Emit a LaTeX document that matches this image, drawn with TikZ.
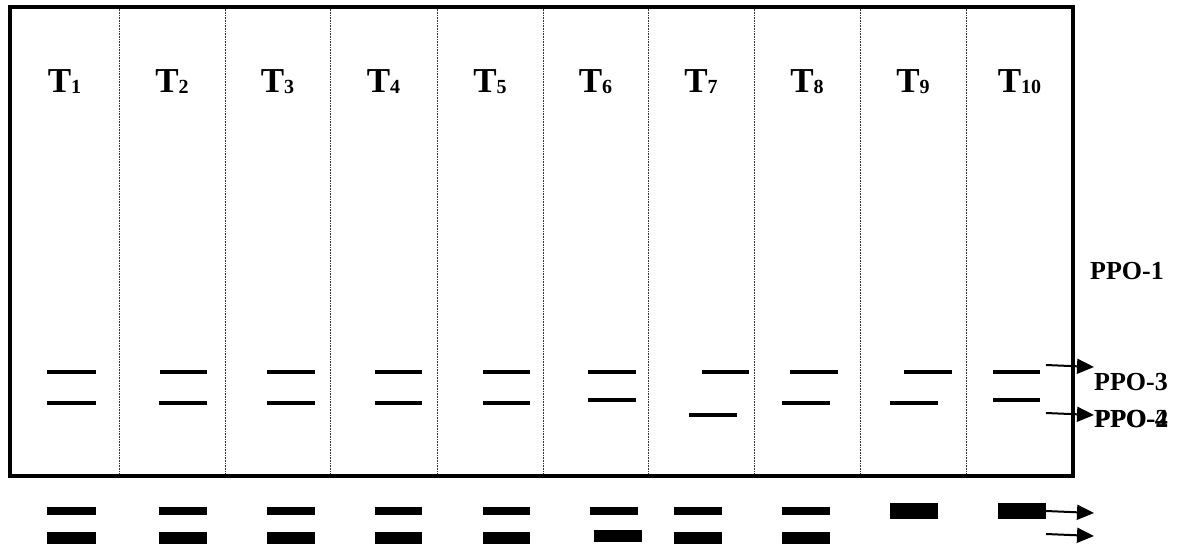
\documentclass[tikz,border=0pt]{standalone}
\usepackage{fontspec}
\setmainfont{Liberation Serif}
\usetikzlibrary{arrows.meta}
\tikzset{
  frame/.style={line width=3.2pt, line join=miter},
  sep/.style={line width=0.7pt, dash pattern=on 0.8pt off 0.8pt, black!80},
  band/.style={line width=4pt},
  thick band/.style={line width=8pt},
  wide band/.style={line width=12pt},
  block/.style={fill=black, draw=none},
  tlabel/.style={anchor=base, inner sep=0pt, font=\fontsize{35}{35}\selectfont\bfseries},
  plabel/.style={anchor=base west, inner sep=0pt, font=\fontsize{26}{26}\selectfont\bfseries},
  arr/.style={line width=2pt, -{Triangle[length=17pt,width=15pt]}}
}
\newcommand{\Tl}[1]{T\raisebox{-1pt}{\fontsize{20}{20}\selectfont #1}}
\begin{document}
\begin{tikzpicture}[x=1pt,y=-1pt]
\useasboundingbox (0,0) rectangle (1180,548);
% lane separators
\foreach \x in {119,225,330,437,543,648,754,860,966}
  \draw[sep] (\x,7) -- (\x,476);
% frame
\draw[frame] (10,7) rectangle (1073,476);
% lane labels
\foreach \x/\n [count=\i] in {64.5/1,172/2,277.5/3,383.5/4,490/5,595.5/6,701/7,807/8,913/9,1019.5/10}
  \node[tlabel] (t\i) at (\x,93) {\Tl{\n}};
% bands inside the gel (upper row)
\foreach \a/\b in {47/96,160/207,267/315,375/422,483/530,588/636,702/749,790/838,904/952,993/1040}
  \draw[band] (\a,372) -- (\b,372);
% bands inside the gel (lower row)
\foreach \a/\b/\y in {47/96/403,159/207/403,267/315/403,375/422/403,483/530/403,588/636/400,689/737/415,782/830/403,890/938/403,993/1040/400}
  \draw[band] (\a,\y) -- (\b,\y);
% bands below the gel
\foreach \a/\b in {47/96,159/207,267/315,375/422,483/530,590/638,674/722,782/830}
  \draw[thick band] (\a,511) -- (\b,511);
\foreach \a/\b/\y in {47/96/538,159/207/538,267/315/538,375/422/538,483/530/538,594/642/536,674/722/538,782/830/538}
  \draw[wide band] (\a,\y) -- (\b,\y);
\fill[block] (890,503) rectangle (938,519);
\fill[block] (998,503) rectangle (1046,519);
% labels on the right
\node[plabel, anchor=base] (p1) at (1127,279) {PPO-1};
\node[plabel] (p3) at (1094,390) {PPO-3};
\node[plabel] (p4) at (1094,427) {PPO-4};
\node[plabel] (p2) at (1094.6,427) {PPO-2};
% arrows
\coordinate (a1s) at (1046,365); \coordinate (a1e) at (1094,367);
\coordinate (a2s) at (1046,413); \coordinate (a2e) at (1094,415);
\coordinate (a3s) at (1046,511); \coordinate (a3e) at (1094,513);
\coordinate (a4s) at (1046,534); \coordinate (a4e) at (1094,536);
\draw[arr] (a1s) -- (a1e);
\draw[arr] (a2s) -- (a2e);
\draw[arr] (a3s) -- (a3e);
\draw[arr] (a4s) -- (a4e);
\end{tikzpicture}
\end{document}
